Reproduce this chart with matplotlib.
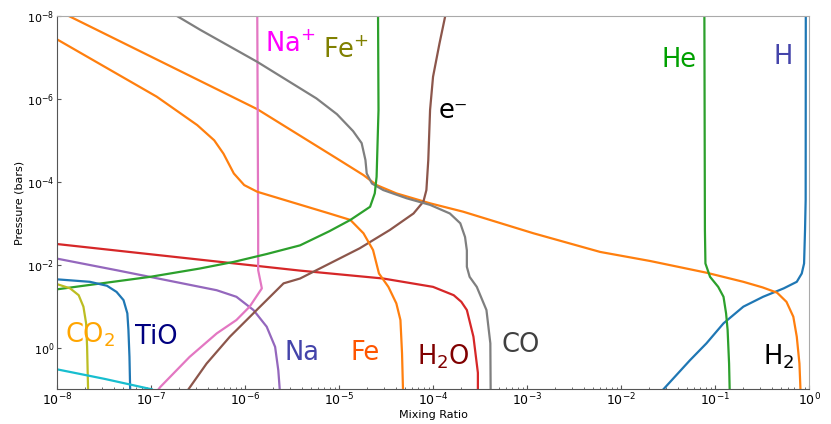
import numpy as np
import matplotlib
matplotlib.use('Agg')
import matplotlib.pyplot as plt

# mixing ratio (x) vs pressure in bars (y)
h_x = [0.923, 0.92, 0.906, 0.885, 0.836, 0.74, 0.537, 0.324, 0.20, 0.123, 8.1e-2, 5.4e-2, 2.82e-2]
h_p = [1e-8, 2.75e-4, 1.45e-3, 9.3e-3, 1.62e-2, 2.57e-2, 3.7e-2, 5.9e-2, 0.102, 0.257, 0.78, 2.0, 10]

h2_x = [1.32e-8, 2.66e-8, 1.35e-6, 9.5e-6, 1.82e-5, 2.51e-5, 4.07e-5, 9.3e-5, 2.09e-4, 1.17e-3,
        6.0e-3, 2.04e-2, 8.1e-2, 0.20, 0.32, 0.457, 0.575, 0.68, 0.74, 0.79, 0.81]
h2_p = [1e-8, 2.19e-8, 1.78e-6, 2.75e-5, 6.9e-5, 1.2e-4, 1.9e-4, 3.3e-4, 5.25e-4, 1.74e-3,
        4.9e-3, 8.1e-3, 1.55e-2, 2.57e-2, 3.5e-2, 4.7e-2, 7.8e-2, 0.178, 0.54, 2.4, 10]

he_x = [7.7e-2, 7.8e-2, 7.9e-2, 8.85e-2, 0.108, 0.123, 0.131, 0.136, 0.141, 0.143]
he_p = [1e-8, 1.45e-3, 9.3e-3, 1.95e-2, 3.4e-2, 5.9e-2, 0.148, 0.37, 2.4, 10]

h2o_x = [1e-8, 3.85e-6, 2.95e-5, 1e-4, 1.66e-4, 2.0e-4, 2.29e-4, 2.69e-4, 3.0e-4, 3.0e-4]
h2o_p = [3.16e-3, 1.38e-2, 2.14e-2, 3.4e-2, 5.4e-2, 7.8e-2, 0.123, 0.54, 4.0, 10]

na_x = [1e-8, 4.3e-8, 2.19e-7, 5.0e-7, 8.1e-7, 1.23e-6, 1.7e-6, 2.09e-6, 2.26e-6, 2.34e-6]
na_p = [7.1e-3, 1.35e-2, 2.82e-2, 4.1e-2, 5.9e-2, 0.123, 0.31, 0.95, 3.5, 10]

e_x = [1.35e-4, 1.17e-4, 1.0e-4, 9.3e-5, 8.9e-5, 8.5e-5, 7.9e-5, 6.2e-5, 3.47e-5, 1.66e-5,
       5.75e-6, 3.85e-6, 2.57e-6, 1.33e-6, 6.9e-7, 3.9e-7, 2.5e-7]
e_p = [1e-8, 4.7e-8, 2.95e-7, 1.86e-6, 3.0e-5, 1.58e-4, 3.0e-4, 5.8e-4, 1.45e-3, 4.0e-3,
       1.35e-2, 2.14e-2, 2.8e-2, 0.123, 0.54, 2.4, 10]

nap_x = [1.35e-6, 1.38e-6, 1.38e-6, 1.51e-6, 1.12e-6, 8.1e-7, 5.0e-7, 2.57e-7, 1.26e-7, 1.2e-7]
nap_p = [1e-8, 1.45e-3, 1.35e-2, 3.7e-2, 0.102, 0.214, 0.45, 1.66, 8.7, 10]

co_x = [1.87e-7, 3.35e-7, 1.35e-6, 5.75e-6, 9.5e-6, 1.41e-5, 1.74e-5, 1.91e-5, 1.97e-5,
        2.24e-5, 2.95e-5, 5.25e-5, 9.3e-5, 1.51e-4, 1.95e-4, 2.19e-4, 2.29e-4, 2.29e-4,
        2.45e-4, 2.92e-4, 3.7e-4, 4.07e-4, 4.1e-4]
co_p = [1e-8, 2.19e-8, 1.29e-7, 9.8e-7, 2.35e-6, 6.0e-6, 1.17e-5, 3.0e-5, 6.3e-5,
        1.1e-4, 1.58e-4, 2.5e-4, 3.6e-4, 5.8e-4, 1e-3, 2.14e-3, 4.5e-3, 1.12e-2,
        1.95e-2, 3.4e-2, 0.123, 0.78, 10]

fe_x = [1e-8, 2.26e-8, 1.15e-7, 3.1e-7, 4.7e-7, 5.9e-7, 7.6e-7, 9.8e-7, 1.35e-6, 3.0e-6,
        7.9e-6, 1.32e-5, 1.82e-5, 2.3e-5, 2.66e-5, 3.35e-5, 4.07e-5, 4.5e-5, 4.68e-5, 4.79e-5]
fe_p = [3.7e-8, 1.07e-7, 8.9e-7, 4.3e-6, 1e-5, 2.1e-5, 6.3e-5, 1.2e-4, 1.74e-4, 3.0e-4,
        5.8e-4, 8.3e-4, 1.74e-3, 4.4e-3, 1.62e-2, 3.4e-2, 8.5e-2, 0.214, 1.36, 10]

fep_x = [1e-8, 2.9e-8, 9.8e-8, 3.3e-7, 7.6e-7, 1.7e-6, 3.85e-6, 7.9e-6, 1.32e-5, 2.14e-5,
         2.4e-5, 2.51e-5, 2.63e-5, 2.6e-5]
fep_p = [3.9e-2, 2.82e-2, 1.95e-2, 1.23e-2, 8.5e-3, 5.5e-3, 3.4e-3, 1.55e-3, 8.3e-4, 4.0e-4,
         1.9e-4, 7.6e-5, 1.86e-6, 1e-8]

tio_x = [1e-8, 2.24e-8, 3.4e-8, 4.3e-8, 5.1e-8, 5.6e-8, 5.75e-8, 5.9e-8, 6.0e-8]
tio_p = [2.24e-2, 2.57e-2, 3.2e-2, 4.5e-2, 7.1e-2, 0.148, 0.37, 1.66, 10]

co2_x = [1e-8, 1.38e-8, 1.7e-8, 1.91e-8, 2.04e-8, 2.09e-8, 2.14e-8]
co2_p = [2.92e-2, 3.7e-2, 5.4e-2, 0.102, 0.257, 0.95, 10]

cyan_x = [1e-8, 3.2e-8, 1.02e-7]
cyan_p = [3.3, 5.6, 10]

# species labels: text, x, p, colour
labels = ['Na$^{+}$', 'Fe$^{+}$', 'e\u207b', 'He', 'H', 'CO$_2$', 'TiO',
          'Na', 'Fe', 'H$_2$O', 'CO', 'H$_2$']
label_x = [3.0e-6, 1.2e-5, 1.66e-4, 4.1e-2, 0.525, 2.24e-8, 1.15e-7,
           4.0e-6, 1.9e-5, 1.29e-4, 8.5e-4, 0.47]
label_p = [5.1e-8, 6.8e-8, 2.0e-6, 1.17e-7, 9.8e-8, 0.49, 0.54,
           1.36, 1.32, 1.66, 0.86, 1.66]
label_c = ['#ff00ff', '#808000', 'black', '#00a000', '#4444aa', '#ffa500', '#000080',
           '#4444aa', '#ff5500', '#800000', '#404040', 'black']

fig = plt.figure(figsize=(8.31, 4.24), dpi=100)
ax = fig.add_axes([0.0686, 0.0818, 0.905, 0.881])

lw = 1.6
ax.plot(h_x, h_p, color='tab:blue', lw=lw)
ax.plot(h2_x, h2_p, color='tab:orange', lw=lw)
ax.plot(he_x, he_p, color='tab:green', lw=lw)
ax.plot(h2o_x, h2o_p, color='tab:red', lw=lw)
ax.plot(na_x, na_p, color='tab:purple', lw=lw)
ax.plot(e_x, e_p, color='tab:brown', lw=lw)
ax.plot(nap_x, nap_p, color='tab:pink', lw=lw)
ax.plot(co_x, co_p, color='tab:gray', lw=lw)
ax.plot(fe_x, fe_p, color='tab:orange', lw=lw)
ax.plot(fep_x, fep_p, color='tab:green', lw=lw)
ax.plot(tio_x, tio_p, color='tab:blue', lw=lw)
ax.plot(co2_x, co2_p, color='tab:olive', lw=lw)
ax.plot(cyan_x, cyan_p, color='tab:cyan', lw=lw)

for t, x, p, c in zip(labels, label_x, label_p, label_c):
    ax.text(x, p, t, color=c, fontsize=18.5, ha='center', va='center')

ax.set_xscale('log')
ax.set_yscale('log')
ax.set_xlim(1e-8, 1)
ax.set_ylim(10, 1e-8)
ax.set_yticks([1e-8, 1e-6, 1e-4, 1e-2, 1e0])
ax.set_xticks([1e-8, 1e-7, 1e-6, 1e-5, 1e-4, 1e-3, 1e-2, 1e-1, 1e0])

ax.tick_params(which='both', direction='in', pad=2, colors='#555555', labelcolor='black')
ax.tick_params(axis='x', which='major', labelsize=9)
ax.tick_params(axis='y', which='major', labelsize=8)
ax.tick_params(which='major', length=3)
ax.tick_params(which='minor', length=1.5)

for s in ['left', 'bottom']:
    ax.spines[s].set_color('#555555')
for s in ['top', 'right']:
    ax.spines[s].set_color('#aaaaaa')

ax.set_xlabel('Mixing Ratio', fontsize=8, labelpad=1)
ax.set_ylabel('Pressure (bars)', fontsize=8, labelpad=2)

fig.savefig('out.png', dpi=100)
